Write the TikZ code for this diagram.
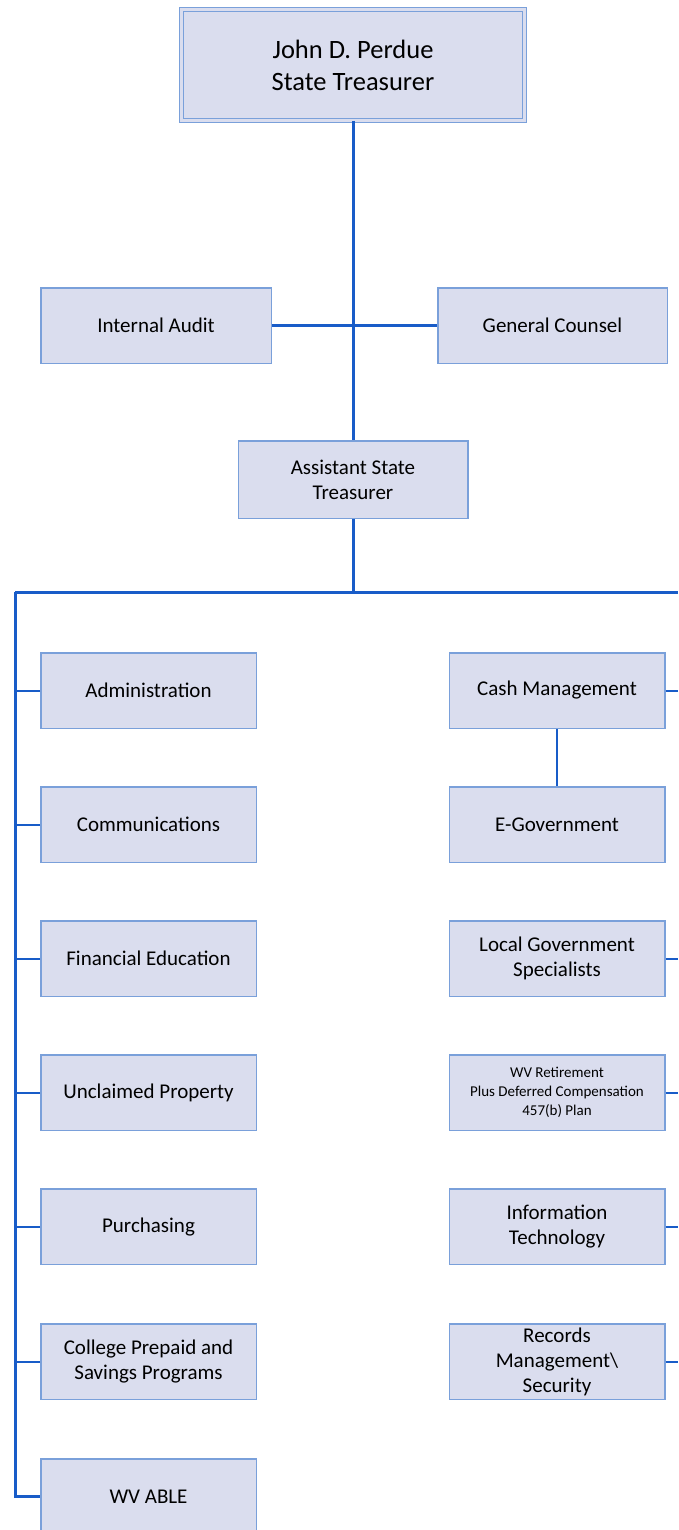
\documentclass[tikz,border=0pt]{standalone}
\usepackage{fontspec}
\setmainfont{Carlito}
\usetikzlibrary{shadows}
\definecolor{boxfill}{RGB}{218,221,238}
\definecolor{boxline}{RGB}{122,160,218}
\definecolor{linkblue}{RGB}{24,92,200}

\begin{document}
\begin{tikzpicture}[x=1pt,y=-1pt]
   \tikzset{Unit/.style={draw=boxline, fill=boxfill, line width=1.5pt,
      minimum width=215.5pt, minimum height=75.5pt, inner sep=2pt,
      align=center, font=\fontsize{21}{25}\selectfont}}
   \tikzset{Link/.style={draw=linkblue, line width=2.5pt}}
   \useasboundingbox (0,0) rectangle (678,1530);
   % head
   \node[Unit, minimum width=343.5pt, minimum height=110.5pt,
      line width=1.2pt, double=boxfill, double distance=3pt,
      font=\fontsize{26.5}{32}\selectfont,
      drop shadow={shadow xshift=1.5pt, shadow yshift=-2.5pt, opacity=.4, fill=black!45}]
      (treas) at (353,65) {John D. Perdue\\State Treasurer};
   \node[Unit, minimum width=230.5pt] (audit) at (156,325.5) {Internal Audit};
   \node[Unit, minimum width=229.5pt] (counsel) at (552.5,325.5) {General Counsel};
   \node[Unit, minimum width=229.5pt, minimum height=77.5pt] (asst) at (353,479.5) {Assistant State\\Treasurer};
   % left column
   \node[Unit] (admin) at (148.5,690.5) {Administration};
   \node[Unit] (comm) at (148.5,824.5) {Communications};
   \node[Unit] (fined) at (148.5,958.5) {Financial Education};
   \node[Unit] (unclaim) at (148.5,1092.5) {Unclaimed Property};
   \node[Unit] (purch) at (148.5,1226.5) {Purchasing};
   \node[Unit] (college) at (148.5,1361.5) {College Prepaid and\\Savings Programs};
   \node[Unit] (able) at (148.5,1496.5) {WV ABLE};
   % right column
   \node[Unit] (cash) at (557,690.5) {Cash Management};
   \node[Unit] (egov) at (557,824.5) {E-Government};
   \node[Unit] (locgov) at (557,958.5) {Local Government\\Specialists};
   \node[Unit, font=\fontsize{15}{19}\selectfont] (wvrp) at (557,1092.5) {WV Retirement\\Plus Deferred Compensation\\457(b) Plan};
   \node[Unit] (infotech) at (557,1226.5) {Information\\Technology};
   \node[Unit] (records) at (557,1361.5) {Records\\Management\textbackslash\\Security};
   % bus
   \coordinate (busL) at (15,592);
   \coordinate (busR) at (678,592);
   \draw[Link, line width=3pt] (treas) -- (asst);
   \draw[Link] (audit) -- (counsel);
   \draw[Link, line width=3pt] (asst.south) -- (asst.south |- busL);
   \draw[Link, line width=3pt] (busL) -- (busR);
   \draw[Link, line width=3pt] (busL) |- (able.west);
   \foreach \n in {admin,comm,fined,unclaim,purch,college}
      \draw[Link, line width=2pt] (\n.west) -- (\n.west -| busL);
   \foreach \n in {cash,locgov,wvrp,infotech,records}
      \draw[Link, line width=2pt] (\n.east) -- (\n.east -| busR);
   \draw[Link] (cash) -- (egov);
\end{tikzpicture}
\end{document}
